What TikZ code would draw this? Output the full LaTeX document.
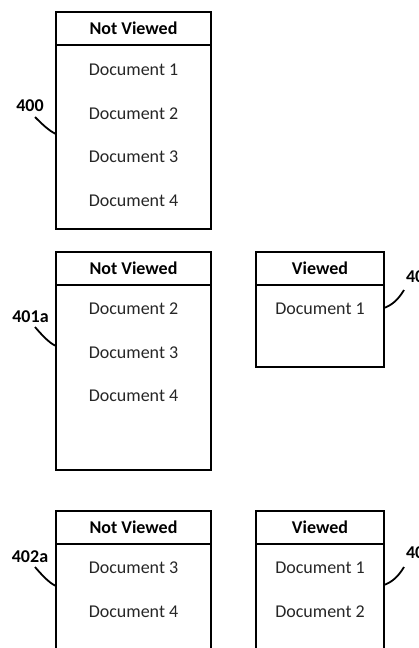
\documentclass[tikz,border=0pt]{standalone}
\usepackage{fontspec}
\setmainfont{Carlito}
\usetikzlibrary{positioning}

\begin{document}
\begin{tikzpicture}[x=1pt, y=-1pt, line width=2pt,
  hdr/.style={draw, outer sep=0pt, inner sep=0pt, minimum height=33pt, font=\fontsize{18}{21}\selectfont\bfseries},
  bdy/.style={draw, outer sep=0pt, inner sep=0pt},
  doc/.style={font=\fontsize{18}{21}\selectfont, text=black!85},
  refno/.style={font=\fontsize{18}{21}\selectfont\bfseries, inner sep=0pt},
  lead/.style={line width=1.8pt}]
  \clip (0,0) rectangle (419,648);
  % Top: nothing viewed yet
  \node[hdr, minimum width=155pt] (nv0) at (133.5,28.5) {Not Viewed};
  \node[bdy, minimum width=155pt, minimum height=184pt, below=0pt of nv0] (nvb0) {};
  \foreach \d in {1,2,3,4}
    \node[doc] (d0\d) at (133.5,{70+43.5*(\d-1)}) {Document \d};
  \node[refno] (l0) at (30,105.5) {400};
  \coordinate (t0) at (35,117);
  \coordinate (h0) at (56,134);
  \draw[lead] (t0) .. controls (41,123) and (49,131) .. (h0);
  % Middle: document 1 viewed
  \node[hdr, minimum width=155pt] (nv1) at (133.5,268) {Not Viewed};
  \node[bdy, minimum width=155pt, minimum height=185pt, below=0pt of nv1] (nvb1) {};
  \foreach \d in {2,3,4}
    \node[doc] (d1\d) at (133.5,{309+43.5*(\d-2)}) {Document \d};
  \node[refno] (l1) at (30.5,317) {401a};
  \coordinate (t1) at (35,327);
  \coordinate (h1) at (56,346);
  \draw[lead] (t1) .. controls (41,334) and (49,343) .. (h1);
  \node[hdr, minimum width=128pt] (vw1) at (320,268) {Viewed};
  \node[bdy, minimum width=128pt, minimum height=82pt, below=0pt of vw1] (vwb1) {};
  \node[doc] (e11) at (320,309) {Document 1};
  \node[refno, anchor=west] (r1) at (405,277) {40};
  \coordinate (u1) at (404,290);
  \coordinate (k1) at (384,308);
  \draw[lead] (u1) .. controls (398,300) and (392,305) .. (k1);
  % Bottom: documents 1 and 2 viewed
  \node[hdr, minimum width=155pt] (nv2) at (133.5,527) {Not Viewed};
  \node[bdy, minimum width=155pt, minimum height=160pt, below=0pt of nv2] (nvb2) {};
  \foreach \d in {3,4}
    \node[doc] (d2\d) at (133.5,{568+43.5*(\d-3)}) {Document \d};
  \node[refno] (l2) at (30,557) {402a};
  \coordinate (t2) at (35,567);
  \coordinate (h2) at (56,586);
  \draw[lead] (t2) .. controls (41,574) and (49,583) .. (h2);
  \node[hdr, minimum width=128pt] (vw2) at (320,527) {Viewed};
  \node[bdy, minimum width=128pt, minimum height=160pt, below=0pt of vw2] (vwb2) {};
  \foreach \d in {1,2}
    \node[doc] (e2\d) at (320,{568+43.5*(\d-1)}) {Document \d};
  \node[refno, anchor=west] (r2) at (405,553) {40};
  \coordinate (u2) at (404,567);
  \coordinate (k2) at (384,585);
  \draw[lead] (u2) .. controls (398,577) and (392,582) .. (k2);
\end{tikzpicture}
\end{document}
